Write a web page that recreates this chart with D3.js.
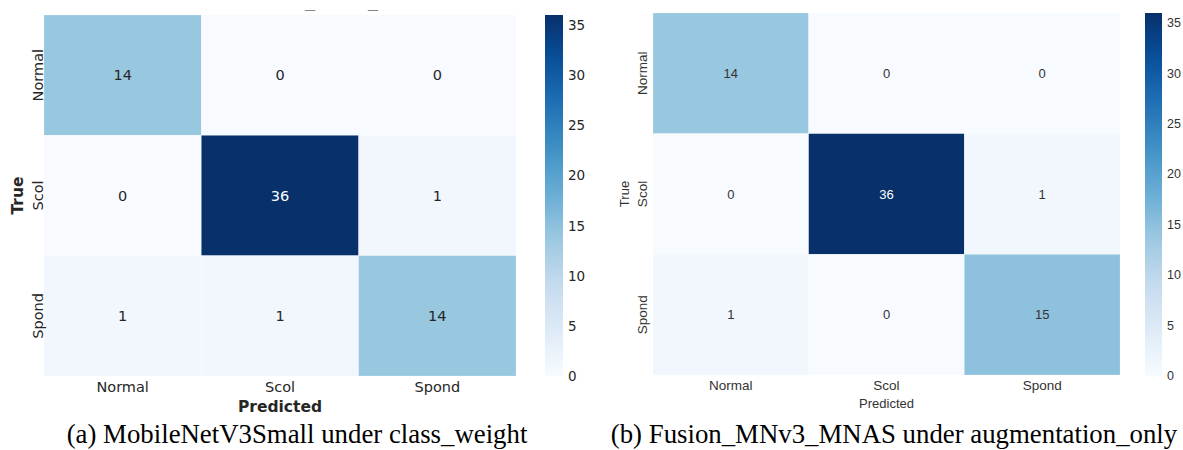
<!DOCTYPE html>
<html>
<head>
<meta charset="utf-8">
<script src="https://cdn.jsdelivr.net/npm/d3@7"></script>
<style>
  html, body { margin: 0; padding: 0; background: #fff; }
  svg { display: block; }
</style>
</head>
<body>
<svg id="chart" width="1183" height="450"></svg>
<script>
// ---- data ----
const categories = ["Normal", "Scol", "Spond"];
const matrixA = [[14, 0, 0], [0, 36, 1], [1, 1, 14]];
const matrixB = [[14, 0, 0], [0, 36, 1], [1, 0, 15]];
const colorTicks = [0, 5, 10, 15, 20, 25, 30, 35];
const colorMax = 36;
const captionA = "(a) MobileNetV3Small under class_weight";
const captionB = "(b) Fusion_MNv3_MNAS under augmentation_only";

const svg = d3.select("#chart");
const bluesStops = ["#f7fbff","#deebf7","#c6dbef","#9ecae1","#6baed6","#4292c6","#2171b5","#08519c","#08306b"];
const color = d3.scaleLinear()
  .domain(bluesStops.map((_, i) => i / (bluesStops.length - 1) * colorMax))
  .range(bluesStops)
  .interpolate(d3.interpolateRgb)
  .clamp(true);

function drawPanel(cfg) {
  const g = svg.append("g");
  const x = d3.scaleBand().domain(categories).range([cfg.x0, cfg.x1]);
  const y = d3.scaleBand().domain(categories).range([cfg.y0, cfg.y1]);
  const cells = [];
  cfg.matrix.forEach((row, i) => row.forEach((v, j) => cells.push({ t: categories[i], p: categories[j], v })));

  g.selectAll("rect.cell").data(cells).enter().append("rect")
    .attr("class", "cell")
    .attr("x", d => x(d.p)).attr("y", d => y(d.t))
    .attr("width", x.bandwidth()).attr("height", y.bandwidth())
    .attr("fill", d => color(d.v))
    .attr("stroke", "#ffffff").attr("stroke-width", 0.4).attr("stroke-opacity", 0.5);

  g.selectAll("text.ann").data(cells).enter().append("text")
    .attr("x", d => x(d.p) + x.bandwidth() / 2)
    .attr("y", d => y(d.t) + y.bandwidth() / 2)
    .attr("text-anchor", "middle").attr("dominant-baseline", "central")
    .attr("font-family", cfg.font).attr("font-size", cfg.annSize)
    .attr("fill", d => d.v > colorMax * 0.6 ? "#ffffff" : cfg.textColor)
    .text(d => d.v);

  // x tick labels
  g.selectAll("text.xt").data(categories).enter().append("text")
    .attr("x", d => x(d) + x.bandwidth() / 2).attr("y", cfg.xTickY)
    .attr("text-anchor", "middle").attr("dominant-baseline", "central")
    .attr("font-family", cfg.font).attr("font-size", cfg.tickSize)
    .attr("fill", cfg.textColor).text(d => d);

  // y tick labels
  g.selectAll("text.yt").data(categories).enter().append("text")
    .attr("transform", d => `translate(${cfg.yTickX},${y(d) + y.bandwidth() / 2}) rotate(-90)`)
    .attr("text-anchor", "middle").attr("dominant-baseline", "central")
    .attr("font-family", cfg.font).attr("font-size", cfg.tickSize)
    .attr("fill", cfg.textColor).text(d => d);

  // axis labels
  g.append("text")
    .attr("x", (cfg.x0 + cfg.x1) / 2).attr("y", cfg.xLabelY)
    .attr("text-anchor", "middle").attr("dominant-baseline", "central")
    .attr("font-family", cfg.font).attr("font-size", cfg.labelSize)
    .attr("font-weight", cfg.labelWeight).attr("fill", cfg.textColor)
    .text("Predicted");
  g.append("text")
    .attr("transform", `translate(${cfg.yLabelX},${(cfg.y0 + cfg.y1) / 2}) rotate(-90)`)
    .attr("text-anchor", "middle").attr("dominant-baseline", "central")
    .attr("font-family", cfg.font).attr("font-size", cfg.labelSize)
    .attr("font-weight", cfg.labelWeight).attr("fill", cfg.textColor)
    .text("True");

  // colorbar
  const cb = d3.scaleLinear().domain([0, colorMax]).range([cfg.cbY1, cfg.cbY0]);
  const gradId = "grad" + cfg.id;
  const grad = svg.append("defs").append("linearGradient")
    .attr("id", gradId).attr("x1", 0).attr("y1", 1).attr("x2", 0).attr("y2", 0);
  d3.range(0, 21).forEach(k => {
    grad.append("stop").attr("offset", k / 20).attr("stop-color", color(k / 20 * colorMax));
  });
  g.append("rect")
    .attr("x", cfg.cbX).attr("y", cfg.cbY0)
    .attr("width", cfg.cbW).attr("height", cfg.cbY1 - cfg.cbY0)
    .attr("fill", `url(#${gradId})`);
  g.selectAll("text.ct").data(colorTicks).enter().append("text")
    .attr("x", cfg.cbX + cfg.cbW + cfg.cbLabelGap).attr("y", d => cb(d))
    .attr("dominant-baseline", "central")
    .attr("font-family", cfg.font).attr("font-size", cfg.cbSize)
    .attr("fill", cfg.textColor).text(d => d);

  // caption
  svg.append("text")
    .attr("x", cfg.capX).attr("y", 443)
    .attr("text-anchor", "middle")
    .attr("font-family", "'Liberation Serif', 'Times New Roman', serif")
    .attr("font-size", 26.8).attr("fill", "#000")
    .text(cfg.caption);
}

drawPanel({
  id: "A", matrix: matrixA, caption: captionA, capX: 297,
  x0: 44, x1: 516, y0: 15, y1: 376,
  font: "'DejaVu Sans', sans-serif", textColor: "#262626",
  annSize: 14.5, tickSize: 14.5, labelSize: 15.5, labelWeight: "bold", cbSize: 13.5,
  xTickY: 387, xLabelY: 407, yTickX: 38, yLabelX: 18,
  cbX: 545, cbW: 18, cbY0: 15, cbY1: 376, cbLabelGap: 5
});

drawPanel({
  id: "B", matrix: matrixB, caption: captionB, capX: 894,
  x0: 653, x1: 1120, y0: 13, y1: 375,
  font: "'Liberation Sans', Arial, sans-serif", textColor: "#333333",
  annSize: 13, tickSize: 13.5, labelSize: 13, labelWeight: "normal", cbSize: 12.5,
  xTickY: 385, xLabelY: 403, yTickX: 642, yLabelX: 624,
  cbX: 1145, cbW: 17, cbY0: 13, cbY1: 376, cbLabelGap: 5
});

// remnants of a clipped title above the left panel
svg.selectAll("text.rem").data(["_", "_"]).enter().append("text")
  .attr("x", (d, i) => i === 0 ? 305 : 368).attr("y", 9)
  .attr("font-family", "'DejaVu Sans', sans-serif").attr("font-size", 9)
  .attr("textLength", 10).attr("lengthAdjust", "spacingAndGlyphs")
  .attr("fill", "#262626").text(d => d);
</script>
</body>
</html>
